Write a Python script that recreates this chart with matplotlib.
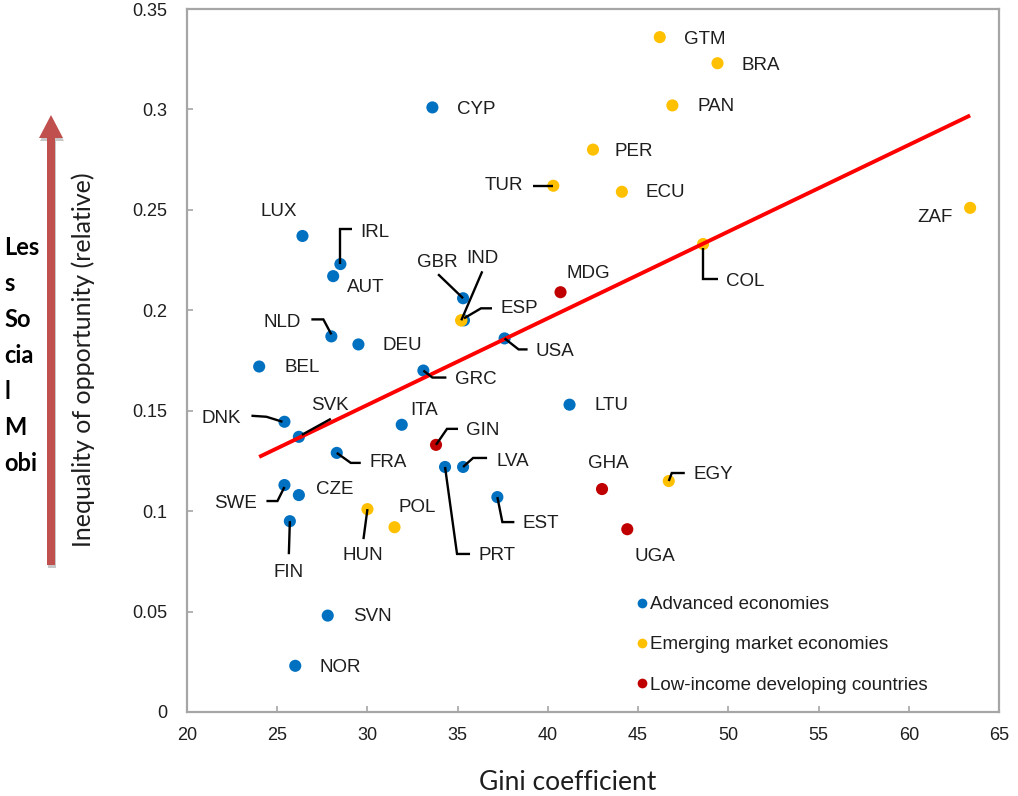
import matplotlib
matplotlib.use("Agg")
import matplotlib.pyplot as plt
from matplotlib.patches import FancyArrow
from matplotlib.lines import Line2D
from matplotlib.transforms import Affine2D

# ---- data -------------------------------------------------------------
countries = ["GTM", "BRA", "PAN", "CYP", "PER", "TUR", "ECU", "ZAF", "LUX", "IRL",
             "AUT", "COL", "MDG", "GBR", "ESP", "IND", "NLD", "DEU", "USA", "BEL",
             "GRC", "LTU", "DNK", "SVK", "ITA", "GIN", "FRA", "LVA", "PRT", "GHA",
             "EGY", "SWE", "CZE", "EST", "HUN", "POL", "UGA", "FIN", "SVN", "NOR"]
gini = [46.2, 49.4, 46.9, 33.6, 42.5, 40.3, 44.1, 63.4, 26.4, 28.5,
        28.1, 48.6, 40.7, 35.3, 35.35, 35.2, 28.0, 29.5, 37.6, 24.0,
        33.1, 41.2, 25.4, 26.2, 31.9, 33.8, 28.3, 35.3, 34.3, 43.0,
        46.7, 25.4, 26.2, 37.2, 30.0, 31.5, 44.4, 25.7, 27.8, 26.0]
inequality = [0.336, 0.323, 0.302, 0.301, 0.280, 0.262, 0.259, 0.251, 0.237, 0.223,
              0.217, 0.233, 0.209, 0.206, 0.195, 0.195, 0.187, 0.183, 0.186, 0.172,
              0.170, 0.153, 0.1445, 0.137, 0.143, 0.133, 0.129, 0.122, 0.122, 0.111,
              0.115, 0.113, 0.108, 0.107, 0.101, 0.092, 0.091, 0.095, 0.048, 0.023]
group = ["EM", "EM", "EM", "AE", "EM", "EM", "EM", "EM", "AE", "AE",
         "AE", "EM", "LI", "AE", "AE", "EM", "AE", "AE", "AE", "AE",
         "AE", "AE", "AE", "AE", "AE", "LI", "AE", "AE", "AE", "LI",
         "EM", "AE", "AE", "AE", "EM", "EM", "LI", "AE", "AE", "AE"]
group_names = {"AE": "Advanced economies",
               "EM": "Emerging market economies",
               "LI": "Low-income developing countries"}

trend_x = [24.0, 63.4]
trend_y = [0.127, 0.297]

x_ticks = [20, 25, 30, 35, 40, 45, 50, 55, 60, 65]
y_ticks = [0, 0.05, 0.1, 0.15, 0.2, 0.25, 0.3, 0.35]
y_tick_labels = ["0", "0.05", "0.1", "0.15", "0.2", "0.25", "0.3", "0.35"]

side_words = ["Les", "s", "So", "cia", "l", "M", "obi"]

# ---- styling ----------------------------------------------------------
colors = {"AE": "#0070C0", "EM": "#FFC000", "LI": "#C00000"}
label_font = "Liberation Sans"
title_font = "Lato"
text_color = "#1E1E1E"
spine_color = "#A6A6A6"

# label placement: (dx, dy, ha) in pixels from the marker, y upward
label_pos = {
    "GTM": (24, -2, "left"), "BRA": (24, -2, "left"), "PAN": (25, -1, "left"),
    "CYP": (25, -2, "left"), "PER": (22, -2, "left"), "TUR": (-30, 0, "right"),
    "ECU": (24, -1, "left"), "ZAF": (-17, -10, "right"), "LUX": (-42, 24, "left"),
    "IRL": (20, 32, "left"), "AUT": (14, -11, "left"), "COL": (23, -37, "left"),
    "MDG": (6, 19, "left"), "GBR": (-46, 36, "left"), "ESP": (37, 12, "left"),
    "IND": (5, 62, "left"), "NLD": (-30, 14, "right"), "DEU": (24, -1, "left"),
    "USA": (31, -13, "left"), "BEL": (25, -1, "left"), "GRC": (32, -9, "left"),
    "LTU": (25, -1, "left"), "DNK": (-43, 3, "right"), "SVK": (12, 31, "left"),
    "ITA": (9, 14, "left"), "GIN": (30, 14, "left"), "FRA": (33, -10, "left"),
    "LVA": (33, 5, "left"), "PRT": (33, -89, "left"), "GHA": (-14, 26, "left"),
    "EGY": (25, 7, "left"), "SWE": (-27, -18, "right"), "CZE": (17, 6, "left"),
    "EST": (25, -26, "left"), "HUN": (-5, -46, "center"), "POL": (4, 20, "left"),
    "UGA": (7, -27, "left"), "FIN": (-1, -51, "center"), "SVN": (25, -1, "left"),
    "NOR": (24, -2, "left"),
}
# leader lines: pixel vertices relative to the marker
leaders = {
    "TUR": [(-20, 0), (0, 0)],
    "IRL": [(0, 0), (0, 35), (12, 35)],
    "COL": [(0, -4), (0, -35), (15, -35)],
    "GBR": [(-25, 24), (0, 0)],
    "IND": [(21, 49), (0, 0)],
    "ESP": [(0, 2), (17, 12), (28, 12)],
    "NLD": [(-20, 17), (-8, 17), (0, 2)],
    "USA": [(0, 0), (14, -11), (23, -11)],
    "GRC": [(0, 0), (9, -7), (23, -7)],
    "DNK": [(-33, 6), (-18, 5), (-2, 0)],
    "SVK": [(32, 18), (3, 2)],
    "GIN": [(0, 0), (11, 16), (22, 16)],
    "FRA": [(0, 0), (14, -10), (24, -10)],
    "LVA": [(0, 0), (10, 9), (24, 9)],
    "PRT": [(0, 0), (12, -87), (25, -87)],
    "EGY": [(0, 0), (3, 8), (16, 8)],
    "SWE": [(-18, -16), (-7, -16), (0, -2)],
    "EST": [(0, 0), (5, -25), (17, -25)],
    "HUN": [(0, 0), (-4, -30)],
    "FIN": [(0, 0), (-1, -33)],
}

W, H = 1018, 796
fig = plt.figure(figsize=(W / 100, H / 100), dpi=100)
fig.patch.set_facecolor("white")

ax = fig.add_axes([187 / W, 1 - 712 / H, (999 - 187) / W, (712 - 9) / H])
ax.set_xlim(20, 65)
ax.set_ylim(0, 0.35)

for side in ["left", "right", "top", "bottom"]:
    ax.spines[side].set_color(spine_color)
    ax.spines[side].set_linewidth(1.6)

ax.set_xticks(x_ticks)
ax.set_yticks(y_ticks)
ax.set_yticklabels(y_tick_labels)
ax.tick_params(axis="both", direction="in", length=4, width=1.2, color=spine_color,
               labelsize=13, labelcolor=text_color)
ax.tick_params(axis="y", pad=14)
ax.tick_params(axis="x", pad=11)
for lab in ax.get_xticklabels() + ax.get_yticklabels():
    lab.set_fontfamily(label_font)

# markers
for g in ["AE", "EM", "LI"]:
    xs = [x for x, gg in zip(gini, group) if gg == g]
    ys = [y for y, gg in zip(inequality, group) if gg == g]
    ax.scatter(xs, ys, s=76, color=colors[g], edgecolors="none", zorder=2)
# IND sits over ESP
i_ind = countries.index("IND")
ax.scatter([gini[i_ind]], [inequality[i_ind]], s=76, color=colors["EM"],
           edgecolors="none", zorder=2.5)

# trend line
ax.plot(trend_x, trend_y, color="#FF0000", lw=2.8, solid_capstyle="butt", zorder=3)

# labels and leader lines
for c, x, y in zip(countries, gini, inequality):
    dx, dy, ha = label_pos[c]
    ax.annotate(c, (x, y), xytext=(dx, dy), textcoords="offset pixels",
                ha=ha, va="center", fontsize=13.5, family=label_font,
                color=text_color, zorder=5)

fig.canvas.draw()
for c, pts in leaders.items():
    i = countries.index(c)
    px, py = ax.transData.transform((gini[i], inequality[i]))
    line = Line2D([p[0] for p in pts], [p[1] for p in pts], color="black", lw=1.7,
                  transform=Affine2D().translate(px, py), zorder=4,
                  solid_joinstyle="miter", solid_capstyle="butt")
    line.set_clip_on(False)
    ax.add_artist(line)

# legend
handles = [Line2D([], [], ls="none", marker="o", ms=7, mec="none", mfc=colors[g])
           for g in ["AE", "EM", "LI"]]
leg = ax.legend(handles, [group_names[g] for g in ["AE", "EM", "LI"]],
                loc="upper left", bbox_to_anchor=((637 - 187) / (999 - 187), (712 - 596) / (712 - 9)),
                frameon=False, handlelength=0.5, handletextpad=0.2,
                labelspacing=1.23, borderpad=0, borderaxespad=0,
                prop={"family": label_font, "size": 13.5})
for t in leg.get_texts():
    t.set_color(text_color)

# axis titles
fig.text(568 / W, 1 - 782 / H, "Gini coefficient", ha="center", va="center",
         fontsize=19, family=title_font, color=text_color)
fig.text(83 / W, 1 - 360 / H, "Inequality of opportunity (relative)", ha="center",
         va="center", rotation=90, fontsize=18, family=title_font, color=text_color)

# side arrow with its caption
over = fig.add_axes([0, 0, 1, 1], zorder=-1)
over.set_xlim(0, W)
over.set_ylim(H, 0)
over.axis("off")
shadow = FancyArrow(52, 568, 0, -450, width=8, head_width=24, head_length=23,
                    length_includes_head=True, color="#C8C8C8", lw=0)
arrow = FancyArrow(51, 565, 0, -450, width=8, head_width=24, head_length=23,
                   length_includes_head=True, color="#C0504D", lw=0)
over.add_patch(shadow)
over.add_patch(arrow)
for k, w in enumerate(side_words):
    over.text(4, 255 + 36 * k, w, ha="left", va="baseline", fontsize=17,
              fontweight="bold", family=title_font, color="black")

fig.savefig("out.png", dpi=100, facecolor="white")
